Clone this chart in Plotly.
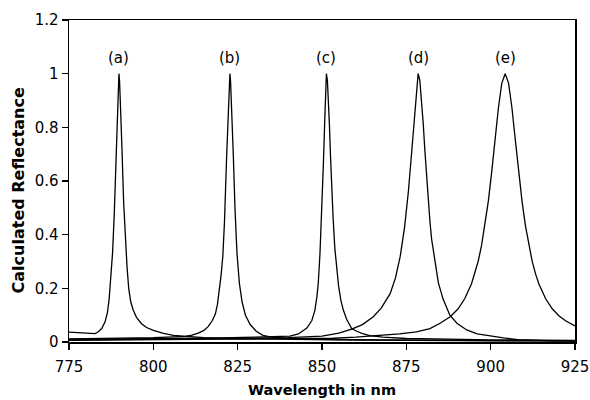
import plotly.graph_objects as go

# ---- data ----
wl_a = [775, 779, 782.7, 783.7, 784.7, 785.7, 786.4, 786.9, 787.4, 787.9, 788.4, 788.9, 789.3, 789.6, 789.8,
        790.0, 790.3, 790.7, 791.2, 791.7, 792.2, 792.7, 793.3, 794, 795, 796.5, 798, 800, 803, 806, 810,
        815, 825, 840, 860, 890, 925]
r_a = [0.037, 0.034, 0.031, 0.038, 0.05, 0.075, 0.11, 0.16, 0.23, 0.33, 0.47, 0.68, 0.86, 0.97, 1.0,
       0.97, 0.88, 0.72, 0.52, 0.38, 0.28, 0.2, 0.15, 0.12, 0.092, 0.068, 0.054, 0.043, 0.032, 0.025, 0.02,
       0.016, 0.012, 0.009, 0.007, 0.005, 0.004]

wl_b = [775, 790, 800, 806, 809.5, 811.5, 813.3, 815, 816.3, 817.5, 818.4, 819, 819.6, 820.1, 820.6, 821.1,
        821.7, 822.2, 822.5, 822.7, 822.9, 823.3, 823.7, 824.2, 824.8, 825.5, 826.3, 827.3, 828.7, 830.5,
        832.5, 835, 840, 850, 870, 900, 925]
r_b = [0.012, 0.014, 0.016, 0.019, 0.021, 0.026, 0.033, 0.043, 0.058, 0.08, 0.105, 0.14, 0.19, 0.25, 0.32, 0.45,
       0.68, 0.88, 0.97, 1.0, 0.97, 0.85, 0.70, 0.5, 0.33, 0.22, 0.15, 0.1, 0.065, 0.04,
       0.025, 0.018, 0.013, 0.01, 0.007, 0.005, 0.004]

wl_c = [775, 800, 820, 830, 835, 840.5, 843, 845.5, 847, 847.9, 848.5, 848.9, 849.4, 849.9, 850.4, 850.8,
        851.1, 851.3, 851.6, 851.9, 852.2, 852.5, 852.9, 853.3, 853.8, 854.3, 854.9, 855.6, 856.3, 857.3,
        858.8, 860.3, 862, 864.2, 868, 875, 900, 925]
r_c = [0.01, 0.012, 0.015, 0.018, 0.02, 0.022, 0.03, 0.052, 0.08, 0.119, 0.17, 0.22, 0.33, 0.47, 0.66, 0.82,
       0.95, 1.0, 0.974, 0.905, 0.81, 0.70, 0.57, 0.46, 0.35, 0.28, 0.21, 0.155, 0.12, 0.085,
       0.05, 0.04, 0.031, 0.024, 0.018, 0.013, 0.008, 0.006]

wl_d = [775, 800, 825, 840, 845, 850, 855, 858.8, 862, 865.2, 867.5, 870.2, 871.8, 873.2, 874.5, 875.6,
        876.6, 877.4, 878, 878.5, 879, 879.5, 880, 880.5, 881, 881.5, 882, 882.5, 883.5, 884.5, 885.9,
        887.9, 890, 892.9, 896, 900, 903.8, 908, 912, 918, 925]
r_d = [0.008, 0.01, 0.013, 0.016, 0.018, 0.022, 0.033, 0.048, 0.065, 0.094, 0.125, 0.18, 0.24, 0.32, 0.43, 0.56,
       0.71, 0.84, 0.95, 1.0, 0.975, 0.908, 0.815, 0.713, 0.614, 0.524, 0.448, 0.383, 0.3, 0.22, 0.16,
       0.1, 0.07, 0.045, 0.03, 0.021, 0.015, 0.009, 0.006, 0.004, 0.003]

wl_e = [775, 800, 825, 845, 853.4, 860, 868.2, 873, 878, 882, 885, 888, 890.3, 892.3, 894.3, 895.3, 896.3,
        897.3, 898.3, 899.3, 900.3, 901.3, 902.3, 903.3, 904.3, 905.3, 906.3, 907.3, 908.3, 909.3, 910.3,
        911.3, 912.3, 913.3, 914.3, 916.3, 918.3, 920.3, 922.3, 925]
r_e = [0.006, 0.008, 0.01, 0.012, 0.014, 0.018, 0.025, 0.03, 0.038, 0.05, 0.07, 0.094, 0.123, 0.161, 0.216, 0.254, 0.301,
       0.36, 0.434, 0.524, 0.633, 0.754, 0.873, 0.965, 1.0, 0.965, 0.873, 0.754, 0.633, 0.524, 0.434,
       0.36, 0.301, 0.254, 0.216, 0.161, 0.123, 0.097, 0.078, 0.06]

labels = ["(a)", "(b)", "(c)", "(d)", "(e)"]
x_ticks = [775, 800, 825, 850, 875, 900, 925]
y_ticks = [0, 0.2, 0.4, 0.6, 0.8, 1, 1.2]
y_tick_text = ["0", "0.2", "0.4", "0.6", "0.8", "1", "1.2"]

series = [(wl_a, r_a), (wl_b, r_b), (wl_c, r_c), (wl_d, r_d), (wl_e, r_e)]
FONT = "DejaVu Sans, Verdana, sans-serif"

fig = go.Figure()
for (wl, r), lab in zip(series, labels):
    fig.add_trace(go.Scatter(x=wl, y=r, mode="lines", name=lab,
                             line=dict(color="black", width=1.3), showlegend=False))

for (wl, r), lab in zip(series, labels):
    px = wl[r.index(max(r))]
    fig.add_annotation(x=px, y=1.06, text=lab, showarrow=False,
                       font=dict(size=15, color="black", family=FONT))

# y-axis title as a rotated annotation (sits slightly below the plot centre in the reference)
fig.add_annotation(xref="paper", yref="paper", x=-0.1, y=0.472, xanchor="center", yanchor="middle",
                   text="Calculated Reflectance", textangle=-90, showarrow=False,
                   font=dict(size=16, color="black", weight="bold", family=FONT))

axis_common = dict(showline=True, linecolor="black", linewidth=1.5, mirror=True,
                   ticks="outside", ticklen=6, tickwidth=1.2, tickcolor="black",
                   showgrid=False, zeroline=False, automargin=False,
                   tickfont=dict(size=15, color="black", family=FONT))

fig.update_xaxes(range=[775, 925], tickvals=x_ticks, ticktext=[str(v) for v in x_ticks],
                 ticklabelstandoff=4,
                 title=dict(text="Wavelength in nm", standoff=10,
                            font=dict(size=14.5, color="black", weight="bold", family=FONT)),
                 **axis_common)
fig.update_yaxes(range=[0, 1.2], tickvals=y_ticks, ticktext=y_tick_text, **axis_common)

fig.update_layout(width=590, height=400, margin=dict(l=69, r=15, t=20, b=58),
                  plot_bgcolor="white", paper_bgcolor="white", hovermode=False,
                  font=dict(family=FONT, color="black"))

fig.write_html("out.html",
               config={"displayModeBar": False, "staticPlot": True},
               post_script="document.body.style.margin='0';document.body.style.overflow='hidden';")
